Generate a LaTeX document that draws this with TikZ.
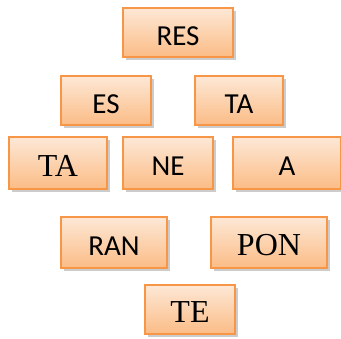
\documentclass[tikz,border=0pt]{standalone}
\usepackage{fontspec}
\setmainfont{Liberation Serif}
\newfontfamily\calfont{Carlito}
\usepackage{xcolor}
\usetikzlibrary{positioning, shadows}
\definecolor{cTop}{HTML}{FDE8D6}
\definecolor{cBot}{HTML}{FBBC86}
\definecolor{cEdge}{HTML}{F79646}
\tikzset{
  syl/.style      ={draw=cEdge, line width=1.2pt, top color=cTop,
                    bottom color=cBot, inner sep=0pt, text depth=0pt,
                    drop shadow={shadow xshift=2.5pt, shadow yshift=-3.5pt,
                                 fill=black, opacity=0.2}},
  sylsans/.style  ={syl, text height=26pt,
                    font=\calfont\fontsize{29}{32}\selectfont},
  sylserif/.style ={syl, text height=27pt,
                    font=\fontsize{32}{35}\selectfont},
}

\begin{document}
\begin{tikzpicture}[x=1pt, y=-1pt]
  \useasboundingbox (0,0) rectangle (341,339);

  % top row
  \node[sylsans, minimum width=110pt, minimum height=49pt] (res) at (178,32.5) {RES};

  % second row
  \node[sylsans, minimum width=90pt, minimum height=49pt] (es) at (106,100.5) {ES};
  \node[sylsans, minimum width=88pt, minimum height=49pt] (taB) at (239,100.5) {TA};

  % third row
  \node[sylserif, minimum width=98pt, minimum height=52pt] (taC) at (58,163) {TA};
  \node[sylsans, minimum width=90pt, minimum height=52pt] (ne) at (168,163) {NE};
  \node[sylsans, minimum width=108pt, minimum height=52pt] (a) at (287,163) {A};

  % fourth row
  \node[sylsans, minimum width=106pt, minimum height=51pt] (ran) at (114,242.5) {RAN};
  \node[sylserif, minimum width=116pt, minimum height=51pt] (pon) at (269,242.5) {PON};

  % bottom
  \node[sylserif, minimum width=90pt, minimum height=49pt] (te) at (190,309.5) {TE};
\end{tikzpicture}
\end{document}
